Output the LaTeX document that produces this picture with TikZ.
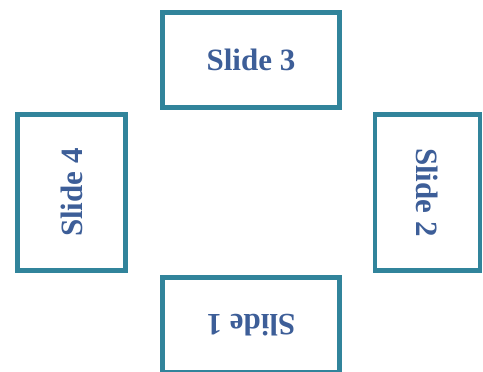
\documentclass[tikz,border=0pt]{standalone}
\usepackage{fontspec}
\setmainfont{Liberation Serif}
\definecolor{slideframe}{HTML}{31849B}
\definecolor{slidetext}{HTML}{3D5E98}
\begin{document}
\begin{tikzpicture}[
        x=1pt, y=-1pt,
        slide/.style={rectangle, draw=slideframe, line width=4.5pt, fill=white,
            text=slidetext, font=\fontsize{31}{31}\selectfont\bfseries,
            inner sep=0pt},
    ]
        \useasboundingbox (0, 0) rectangle (483, 372);

        \node[slide, minimum width=177pt, minimum height=95pt] (s3) at (251, 60) {Slide 3};
        \node[slide, rotate=90, minimum width=156pt, minimum height=108pt] (s4) at (71.5, 192.5) {Slide 4};
        \node[slide, rotate=-90, minimum width=156pt, minimum height=105pt] (s2) at (427.5, 192.5) {Slide 2};
        \node[slide, rotate=180, minimum width=177pt, minimum height=95pt] (s1) at (251, 325) {Slide 1};
    \end{tikzpicture}
\end{document}
